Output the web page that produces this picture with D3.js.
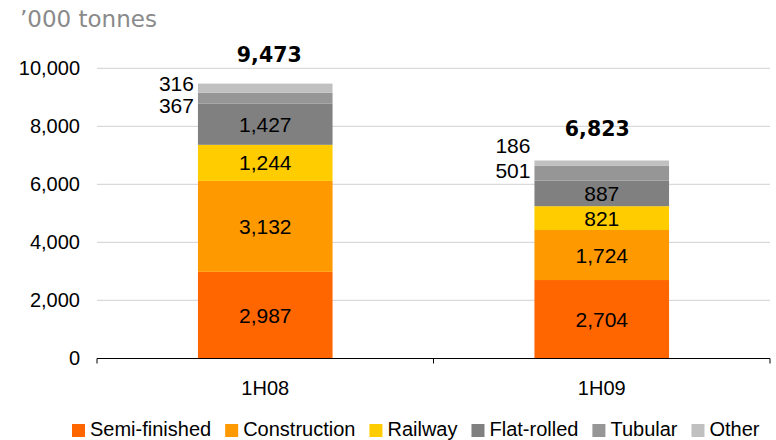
<!DOCTYPE html>
<html><head><meta charset="utf-8">
<script src="https://cdn.jsdelivr.net/npm/d3@7"></script>
<style>
html,body{margin:0;padding:0;background:#fff;}
svg text{font-family:"Liberation Sans",Arial,sans-serif;}
</style>
</head><body>
<svg id="c" width="776" height="440"></svg>
<script>
const categories = ["1H08", "1H09"];
const seriesNames = ["Semi-finished", "Construction", "Railway", "Flat-rolled", "Tubular", "Other"];
const semiFinished = [2987, 2704];
const construction = [3132, 1724];
const railway = [1244, 821];
const flatRolled = [1427, 887];
const tubular = [367, 501];
const other = [316, 186];
const totals = [9473, 6823];
const yTicks = [0, 2000, 4000, 6000, 8000, 10000];
const unitLabel = "\u2019000 tonnes";

const colors = ["#FF6600", "#FF9900", "#FFCC00", "#808080", "#969696", "#C0C0C0"];
// label nudges (px) for outside labels, per category
const outsideDy = { Tubular: [7.5, -2.5], Other: [-4.5, -18] };
const totalDx = [4, -4.5];
const totalDy = [-28.5, -32];

const seriesValues = [semiFinished, construction, railway, flatRolled, tubular, other];
const rows = categories.map((c, i) => {
  const r = { cat: c };
  seriesNames.forEach((s, j) => r[s] = seriesValues[j][i]);
  return r;
});
const stack = d3.stack().keys(seriesNames)(rows);

const svg = d3.select("#c");
const pLeft = 97, pRight = 770, pTop = 68.3, pBottom = 358.5;
const x = d3.scaleBand().domain(categories).range([pLeft, pRight]).paddingInner(0).paddingOuter(0);
const barW = x.bandwidth() * 0.4;
const y = d3.scaleLinear().domain([0, 10000]).range([pBottom, pTop]);

// title
svg.append("text").attr("x", 20).attr("y", 26.8)
  .style("font-family", "'DejaVu Sans', sans-serif").style("font-size", "23px")
  .attr("fill", "#8a8a8a").text(unitLabel);

// gridlines
svg.append("g").selectAll("line").data(yTicks.filter(t => t > 0)).join("line")
  .attr("x1", pLeft).attr("x2", pRight)
  .attr("y1", d => y(d)).attr("y2", d => y(d))
  .attr("stroke", "#d9d9d9").attr("stroke-width", 1.2);

// y axis labels
const yAxis = d3.axisLeft(y).tickValues(yTicks).tickFormat(d3.format(",")).tickSize(0).tickPadding(17);
const ya = svg.append("g").attr("transform", `translate(${pLeft},0)`).call(yAxis);
ya.select(".domain").remove();
ya.selectAll("text").style("font-size", "20px").attr("fill", "#000").attr("font-family", null);

// bars
const bx = c => x(c) + (x.bandwidth() - barW) / 2;
stack.forEach((layer, j) => {
  svg.append("g").selectAll("rect").data(layer).join("rect")
    .attr("x", d => bx(d.data.cat)).attr("width", barW)
    .attr("y", d => y(d[1])).attr("height", d => y(d[0]) - y(d[1]))
    .attr("fill", colors[j]);
});

// segment labels
stack.forEach((layer, j) => {
  const key = seriesNames[j];
  const outside = key === "Tubular" || key === "Other";
  svg.append("g").selectAll("text").data(layer).join("text")
    .attr("x", d => outside ? bx(d.data.cat) - 4 : bx(d.data.cat) + barW / 2)
    .attr("y", (d, i) => (y(d[0]) + y(d[1])) / 2 + (outside ? outsideDy[key][i] : 0))
    .attr("dy", "0.36em")
    .attr("text-anchor", outside ? "end" : "middle")
    .style("font-size", "21px").attr("fill", "#000")
    .text(d => d3.format(",")(d[1] - d[0]));
});

// totals
svg.append("g").selectAll("text").data(categories).join("text")
  .attr("x", (c, i) => x(c) + x.bandwidth() / 2 + totalDx[i])
  .attr("y", (c, i) => y(totals[i]) + totalDy[i])
  .attr("dy", "0.36em").attr("text-anchor", "middle")
  .style("font-family", "'DejaVu Sans', sans-serif").style("font-size", "20.5px").style("font-weight", "bold")
  .attr("fill", "#000").text((c, i) => d3.format(",")(totals[i]));

// x axis
const xAxis = d3.axisBottom(x).tickSize(0).tickPadding(22);
const xa = svg.append("g").attr("transform", `translate(0,${pBottom})`).call(xAxis);
xa.select(".domain").attr("stroke", "#000").attr("d", `M${pLeft},0H${pRight}`);
xa.selectAll("text").style("font-size", "20px").attr("fill", "#000").attr("font-family", null);
const tickXs = [pLeft, ...categories.slice(1).map(c => x(c)), pRight];
xa.append("g").selectAll("line").data(tickXs).join("line")
  .attr("x1", d => d).attr("x2", d => d).attr("y1", 0).attr("y2", 5).attr("stroke", "#000");

// legend
const lg = svg.append("g");
let lx = 72;
seriesNames.forEach((s, j) => {
  lg.append("rect").attr("x", lx).attr("y", 424).attr("width", 13).attr("height", 13).attr("fill", colors[j]);
  const t = lg.append("text").attr("x", lx + 18).attr("y", 436).style("font-size", "20px").attr("fill", "#000").text(s);
  lx += 18 + t.node().getComputedTextLength() + 14;
});
</script>
</body></html>
